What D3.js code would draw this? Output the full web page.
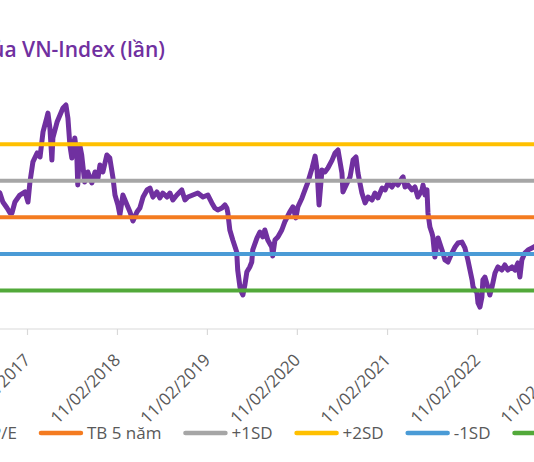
<!DOCTYPE html>
<html>
<head>
<meta charset="utf-8">
<script src="https://cdnjs.cloudflare.com/ajax/libs/d3/7.8.5/d3.min.js"></script>
<style>
  html, body { margin: 0; padding: 0; background: #fff; }
  svg { display: block; font-family: "Open Sans", sans-serif; }
</style>
</head>
<body>
<svg id="chart" width="534" height="462" viewBox="0 0 534 462"></svg>
<script>
const titleText = "P/E của VN-Index (lần)";

// x-axis tick dates
const tickDates = ["2016-02-11", "2017-02-11", "2018-02-11", "2019-02-11", "2020-02-11", "2021-02-11", "2022-02-11", "2023-02-11"];

// P/E series [date, value]
const peSeries = [
    ["2016-10-08", 17.60], ["2016-10-24", 17.43], ["2016-11-05", 16.94], ["2016-11-22", 16.61],
    ["2016-12-04", 16.34], ["2016-12-12", 16.34], ["2016-12-24", 16.94], ["2017-01-13", 17.32],
    ["2017-02-03", 17.49], ["2017-02-15", 16.94], ["2017-02-23", 18.03], ["2017-03-07", 19.13],
    ["2017-03-24", 19.62], ["2017-04-05", 19.40], ["2017-04-17", 20.77], ["2017-05-03", 21.58],
    ["2017-05-07", 21.80], ["2017-05-15", 20.98], ["2017-05-23", 19.23], ["2017-05-27", 20.44],
    ["2017-06-13", 21.31], ["2017-06-25", 21.69], ["2017-07-07", 22.08], ["2017-07-19", 22.24],
    ["2017-07-27", 21.53], ["2017-08-04", 20.05], ["2017-08-12", 19.34], ["2017-08-24", 20.44],
    ["2017-09-01", 19.51], ["2017-09-05", 17.87], ["2017-09-13", 20.05], ["2017-09-21", 19.51],
    ["2017-10-03", 18.03], ["2017-10-16", 18.58], ["2017-11-01", 17.98], ["2017-11-14", 18.58],
    ["2017-11-26", 18.25], ["2017-12-04", 18.96], ["2017-12-16", 18.58], ["2018-01-01", 19.51],
    ["2018-01-13", 19.34], ["2018-01-26", 18.25], ["2018-02-03", 17.32], ["2018-02-15", 16.78],
    ["2018-02-23", 16.23], ["2018-03-07", 17.32], ["2018-03-24", 16.78], ["2018-04-05", 16.39],
    ["2018-04-17", 15.90], ["2018-05-03", 16.39], ["2018-05-15", 16.61], ["2018-05-28", 17.21],
    ["2018-06-13", 17.60], ["2018-06-25", 17.70], ["2018-07-07", 17.21], ["2018-07-23", 17.49],
    ["2018-08-04", 17.16], ["2018-08-16", 17.43], ["2018-09-02", 17.21], ["2018-09-14", 17.43],
    ["2018-09-26", 17.05], ["2018-10-12", 17.32], ["2018-11-01", 17.60], ["2018-11-14", 17.05],
    ["2018-11-26", 17.21], ["2018-12-16", 17.32], ["2019-01-05", 17.43], ["2019-01-26", 17.21],
    ["2019-02-15", 17.32], ["2019-03-03", 16.89], ["2019-03-15", 16.61], ["2019-03-27", 16.50],
    ["2019-04-13", 16.61], ["2019-04-25", 16.78], ["2019-05-03", 16.61], ["2019-05-07", 16.34],
    ["2019-05-15", 15.41], ["2019-05-27", 14.86], ["2019-06-12", 14.21], ["2019-06-16", 13.22],
    ["2019-06-25", 12.30], ["2019-07-03", 11.97], ["2019-07-07", 11.86], ["2019-07-15", 12.40],
    ["2019-07-23", 13.11], ["2019-08-04", 13.39], ["2019-08-12", 13.66], ["2019-08-16", 14.32],
    ["2019-09-02", 14.97], ["2019-09-14", 15.30], ["2019-09-26", 15.03], ["2019-10-04", 15.41],
    ["2019-10-16", 14.86], ["2019-11-01", 14.48], ["2019-11-05", 13.99], ["2019-11-14", 14.86],
    ["2019-11-26", 15.03], ["2019-12-12", 15.41], ["2019-12-24", 15.85], ["2020-01-13", 16.39],
    ["2020-01-26", 16.67], ["2020-02-07", 16.07], ["2020-02-15", 16.67], ["2020-03-03", 17.16],
    ["2020-03-15", 17.60], ["2020-03-27", 18.03], ["2020-04-13", 18.80], ["2020-04-25", 19.45],
    ["2020-05-03", 18.69], ["2020-05-11", 16.78], ["2020-05-23", 18.69], ["2020-06-04", 18.58],
    ["2020-06-16", 18.80], ["2020-07-03", 19.23], ["2020-07-15", 19.62], ["2020-07-27", 19.78],
    ["2020-08-12", 18.52], ["2020-08-16", 17.49], ["2020-09-02", 17.98], ["2020-09-14", 18.31],
    ["2020-09-26", 19.23], ["2020-10-08", 19.40], ["2020-10-16", 18.52], ["2020-11-01", 17.43],
    ["2020-11-14", 16.89], ["2020-11-26", 17.21], ["2020-12-12", 17.05], ["2020-12-24", 17.43],
    ["2021-01-05", 17.16], ["2021-01-22", 17.70], ["2021-02-03", 17.60], ["2021-02-15", 17.98],
    ["2021-03-03", 17.76], ["2021-03-15", 18.03], ["2021-03-27", 17.87], ["2021-04-13", 18.25],
    ["2021-04-17", 18.31], ["2021-04-25", 17.76], ["2021-05-07", 17.87], ["2021-05-23", 17.60],
    ["2021-06-04", 17.76], ["2021-06-16", 17.21], ["2021-07-03", 17.60], ["2021-07-07", 17.87],
    ["2021-07-15", 17.32], ["2021-07-23", 17.60], ["2021-07-27", 16.34], ["2021-08-04", 15.57],
    ["2021-08-12", 15.25], ["2021-08-16", 15.03], ["2021-08-24", 13.93], ["2021-09-02", 14.70],
    ["2021-09-06", 14.97], ["2021-09-22", 14.32], ["2021-10-04", 13.77], ["2021-10-16", 13.66],
    ["2021-11-01", 14.15], ["2021-11-14", 14.48], ["2021-11-26", 14.70], ["2021-12-12", 14.75],
    ["2021-12-24", 14.43], ["2022-01-05", 13.77], ["2022-01-22", 12.68], ["2022-01-26", 12.30],
    ["2022-02-03", 12.13], ["2022-02-11", 11.97], ["2022-02-15", 11.42], ["2022-02-23", 11.20],
    ["2022-03-03", 11.75], ["2022-03-07", 12.68], ["2022-03-15", 12.84], ["2022-03-27", 12.30],
    ["2022-04-04", 11.86], ["2022-04-13", 12.30], ["2022-04-25", 13.06], ["2022-05-07", 13.39],
    ["2022-05-23", 13.22], ["2022-06-04", 13.50], ["2022-06-16", 13.22], ["2022-07-03", 13.39],
    ["2022-07-15", 13.22], ["2022-07-27", 13.61], ["2022-08-04", 12.84], ["2022-08-12", 13.77],
    ["2022-08-24", 14.15], ["2022-09-06", 14.32], ["2022-09-22", 14.43], ["2022-10-08", 14.54]
];

// reference levels
const bandNames = ["TB 5 năm", "+1SD", "+2SD", "-1SD", "-2SD"];
const bandValues = [16.1, 18.1, 20.1, 14.1, 12.1];
const bandColors = ["#f47b20", "#a6a6a6", "#ffc000", "#4a9bd6", "#52a93a"];

const peName = "P/E";
const peColor = "#7030a0";

const svg = d3.select("#chart");
const width = 534;

const parse = d3.utcParse("%Y-%m-%d");
const fmt = d3.utcFormat("%d/%m/%Y");

const x = d3.scaleUtc()
    .domain([parse("2017-02-11"), parse("2022-02-11")])
    .range([27, 477]);

const y = d3.scaleLinear()
    .domain([10, 24])
    .range([329, 329 - 14 * 18.3]);

// title (left part runs off the crop)
svg.append("text")
    .attr("x", 165)
    .attr("y", 57)
    .attr("text-anchor", "end")
    .attr("fill", peColor)
    .style("font-size", "21px")
    .style("font-weight", 600)
    .text(titleText);

// x axis
const xAxis = d3.axisBottom(x)
    .tickValues(tickDates.map(parse))
    .tickSize(6)
    .tickFormat(fmt);

const gx = svg.append("g")
    .attr("transform", "translate(0,329)")
    .call(xAxis);

gx.select(".domain").remove();
gx.insert("line", ":first-child")
    .attr("x1", -10).attr("x2", width + 10)
    .attr("stroke", "#d9d9d9").attr("stroke-width", 1.2);
gx.selectAll(".tick line").attr("stroke", "#d9d9d9").attr("stroke-width", 1.2);
gx.selectAll(".tick text")
    .attr("fill", "#595959")
    .style("font-size", "17px")
    .style("font-family", "'Open Sans', sans-serif")
    .attr("text-anchor", "end")
    .attr("dy", null)
    .attr("y", null)
    .attr("transform", "translate(4,32) rotate(-45)");

// P/E line
const line = d3.line()
    .x(d => x(parse(d[0])))
    .y(d => y(d[1]));

svg.append("path")
    .datum(peSeries)
    .attr("fill", "none")
    .attr("stroke", peColor)
    .attr("stroke-width", 5)
    .attr("stroke-linejoin", "round")
    .attr("stroke-linecap", "round")
    .attr("d", line);

// reference lines on top
svg.append("g").selectAll("line")
    .data(bandValues)
    .enter()
    .append("line")
    .attr("x1", -10).attr("x2", width + 10)
    .attr("y1", d => y(d)).attr("y2", d => y(d))
    .attr("stroke", (d, i) => bandColors[i])
    .attr("stroke-width", 4);

// legend
const legendItems = [{ name: peName, color: peColor }]
    .concat(bandNames.map((n, i) => ({ name: n, color: bandColors[i] })));

const legend = svg.append("g").attr("transform", "translate(0,433)");
let lx = -57;
legendItems.forEach(item => {
    const g = legend.append("g").attr("transform", `translate(${lx},0)`);
    g.append("line")
        .attr("x1", 2).attr("x2", 42)
        .attr("stroke", item.color)
        .attr("stroke-width", 4.5)
        .attr("stroke-linecap", "round");
    const t = g.append("text")
        .attr("x", 48)
        .attr("dy", "0.35em")
        .attr("fill", "#595959")
        .style("font-size", "17px")
        .text(item.name);
    lx += 48 + t.node().getComputedTextLength() + 22;
});
</script>
</body>
</html>
